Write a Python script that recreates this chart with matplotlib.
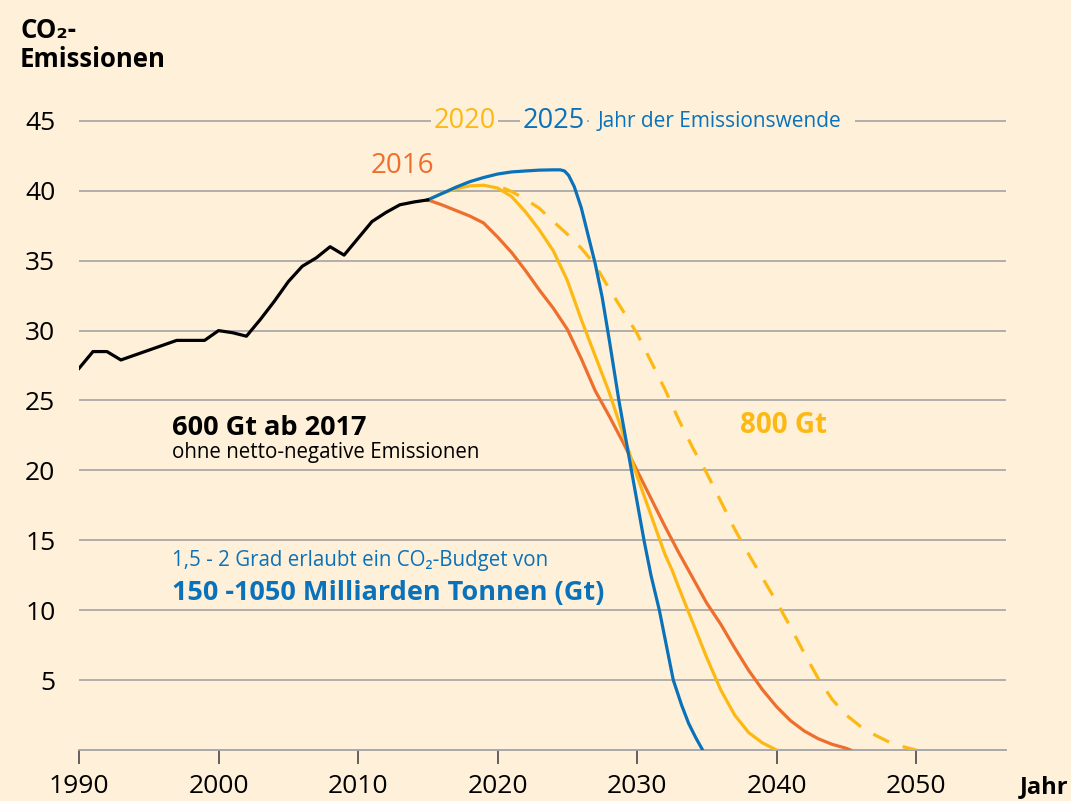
import matplotlib
matplotlib.use("Agg")
import matplotlib.pyplot as plt

# historische Emissionen (Gt CO2)
hist_years = list(range(1990, 2016))
hist_vals = [27.3, 28.5, 28.5, 27.9, 28.25, 28.6, 28.95, 29.3, 29.3, 29.3,
             30.0, 29.85, 29.6, 30.8, 32.1, 33.5, 34.6, 35.2, 36.0, 35.4,
             36.6, 37.8, 38.45, 39.0, 39.2, 39.35]

# Emissionswende 2016
y2016_years = [2015, 2016, 2017, 2018, 2019, 2020, 2021, 2022, 2023, 2024, 2025,
               2026, 2027, 2028, 2029, 2030, 2031, 2032, 2033, 2034, 2035, 2036,
               2037, 2038, 2039, 2040, 2041, 2042, 2043, 2044, 2045, 2045.3]
y2016_vals = [39.35, 39.0, 38.6, 38.2, 37.7, 36.7, 35.6, 34.3, 32.9, 31.6, 30.1,
              28.0, 25.7, 23.9, 22.0, 20.0, 18.0, 16.0, 14.1, 12.3, 10.5, 9.0,
              7.3, 5.7, 4.3, 3.1, 2.1, 1.35, 0.8, 0.4, 0.12, 0.0]

# Emissionswende 2020
y2020_years = [2015, 2016, 2017, 2018, 2019, 2020, 2021, 2022, 2023, 2024, 2025,
               2026, 2027, 2028, 2029, 2030, 2031, 2032, 2032.5, 2033, 2034, 2035,
               2036, 2037, 2038, 2039, 2040]
y2020_vals = [39.35, 39.8, 40.15, 40.35, 40.4, 40.2, 39.6, 38.5, 37.2, 35.7, 33.6,
              30.8, 28.2, 25.6, 22.6, 19.6, 16.8, 14.0, 12.9, 11.6, 9.1, 6.6,
              4.3, 2.5, 1.25, 0.5, 0.0]

# Emissionswende 2025
y2025_years = [2015, 2016, 2017, 2018, 2019, 2020, 2021, 2022, 2023, 2024, 2024.5,
               2024.8, 2025.1, 2025.5, 2026, 2026.5, 2027, 2027.5, 2028, 2028.7, 2029.6,
               2030.5, 2031, 2031.6, 2032.6, 2033.2, 2033.7, 2034.2, 2034.7]
y2025_vals = [39.35, 39.8, 40.25, 40.65, 40.95, 41.2, 41.35, 41.42, 41.48, 41.5, 41.5,
              41.42, 41.1, 40.3, 38.8, 36.8, 34.8, 32.4, 29.4, 25.0, 20.0,
              15.0, 12.5, 10.0, 5.0, 3.2, 1.9, 0.9, 0.0]

# 800 Gt Budget (gestrichelt)
gt800_years = [2020.4, 2021, 2022, 2023, 2024, 2025, 2026, 2027, 2028, 2029, 2030,
               2031, 2032, 2033, 2034, 2035, 2036, 2037, 2038, 2039, 2040, 2041,
               2042, 2043, 2044, 2045, 2046, 2047, 2048, 2049, 2050]
gt800_vals = [40.2, 39.95, 39.4, 38.75, 37.8, 36.9, 35.9, 34.7, 33.0, 31.4, 29.8,
              27.8, 25.8, 23.6, 21.6, 19.8, 17.8, 15.8, 14.0, 12.3, 10.6, 8.8,
              6.9, 5.1, 3.6, 2.5, 1.7, 1.1, 0.6, 0.25, 0.0]

x_ticks = [1990, 2000, 2010, 2020, 2030, 2040, 2050]
y_ticks = [5, 10, 15, 20, 25, 30, 35, 40, 45]

BG = "#FEF0D9"
ORANGE = "#EE6F2D"
YELLOW = "#FDB913"
BLUE = "#0A72BA"
GRID = "#A3A3A3"
FONT = ["Open Sans", "DejaVu Sans"]

plt.rcParams["font.family"] = FONT

fig = plt.figure(figsize=(10.71, 8.01), dpi=100, facecolor=BG)
ax = fig.add_axes([0.0738, 0.0637, 0.8655, 0.8377], facecolor=BG)

ax.set_xlim(1990, 2056.45)
ax.set_ylim(0, 48)

for s in ["top", "right", "left"]:
    ax.spines[s].set_visible(False)
ax.spines["bottom"].set_color(GRID)
ax.spines["bottom"].set_linewidth(1.3)

ax.set_yticks(y_ticks)
ax.set_yticklabels([str(v) for v in y_ticks])
ax.tick_params(axis="y", length=0, pad=17, labelsize=19)
ax.set_xticks(x_ticks)
ax.set_xticklabels([str(v) for v in x_ticks])
ax.tick_params(axis="x", direction="out", length=10, width=1.3, color="#555555",
               pad=7, labelsize=19)
ax.yaxis.grid(True, color=GRID, linewidth=1.2)
ax.set_axisbelow(True)

lw = 2.3
ax.plot(gt800_years, gt800_vals, color=YELLOW, lw=lw, dashes=(5.5, 4.5), zorder=3)
ax.plot(y2016_years, y2016_vals, color=ORANGE, lw=lw, zorder=4)
ax.plot(y2020_years, y2020_vals, color=YELLOW, lw=lw, zorder=5)
ax.plot(y2025_years, y2025_vals, color=BLUE, lw=lw, zorder=6)
ax.plot(hist_years, hist_vals, color="black", lw=lw, zorder=7)

# Beschriftungen
box = dict(facecolor=BG, edgecolor="none", pad=1.5)
box_wide = dict(facecolor=BG, edgecolor="none", pad=6)
ax.text(2013.2, 41.3, "2016", color=ORANGE, fontsize=20, ha="center", va="baseline")
ax.text(2015.4, 44.5, "2020", color=YELLOW, fontsize=19.5, va="baseline", bbox=box, zorder=8)
ax.text(2027.15, 44.55, "Jahr der Emissionswende ", color=BLUE, fontsize=15,
        va="baseline", bbox=box_wide, zorder=8)
ax.text(2021.8, 44.5, "2025", color=BLUE, fontsize=19.5, va="baseline", bbox=box, zorder=9)

ax.text(1996.67, 22.54, "600 Gt ab 2017", fontsize=19.5, fontweight="bold", va="baseline")
ax.text(1996.67, 20.9, "ohne netto-negative Emissionen", fontsize=14.8, va="baseline")
ax.text(1996.67, 13.17, "1,5 - 2 Grad erlaubt ein CO\u2082-Budget von", color=BLUE,
        fontsize=14.8, va="baseline")
ax.text(1996.67, 10.73, "150 -1050 Milliarden Tonnen (Gt)", color=BLUE, fontsize=19.5,
        fontweight="bold", va="baseline")
ax.text(2037.4, 22.7, "800 Gt", color=YELLOW, fontsize=20, fontweight="bold", va="baseline")

fig.text(20 / 1071, 1 - 38 / 801, "CO\u2082-", fontsize=18.5, fontweight="bold", va="baseline")
fig.text(20 / 1071, 1 - 67 / 801, "Emissionen", fontsize=18.5, fontweight="bold", va="baseline")
fig.text(1020 / 1071, 1 - 793 / 801, "Jahr", fontsize=17, fontweight="bold", va="baseline")

fig.savefig("out.png", dpi=100, facecolor=BG)
